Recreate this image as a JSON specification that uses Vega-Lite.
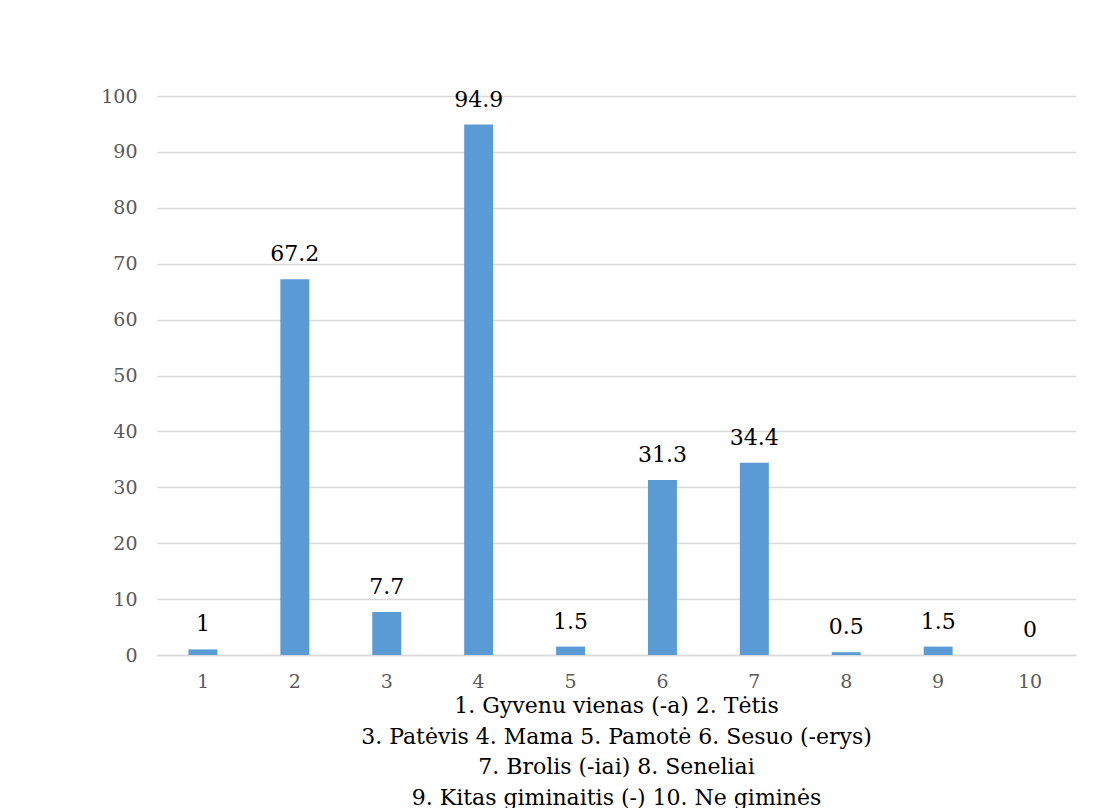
{
  "$schema": "https://vega.github.io/schema/vega-lite/v6.json",
  "width": 919,
  "height": 559,
  "autosize": {"type": "none"},
  "padding": {"left": 157, "top": 96, "right": 21, "bottom": 153},
  "background": "white",
  "title": {
    "text": ["1. Gyvenu vienas (-a)  2. Tėtis", "3. Patėvis  4. Mama  5. Pamotė 6. Sesuo (-erys)", "7. Brolis (-iai) 8. Seneliai", "9. Kitas giminaitis (-)  10. Ne giminės"],
    "orient": "bottom",
    "anchor": "middle",
    "font": "DejaVu Serif",
    "fontSize": 22,
    "fontWeight": "normal",
    "color": "#000000",
    "lineHeight": 30.5,
    "offset": 5
  },
  "data": {
    "values": [
      {"cat": "1", "value": 1},
      {"cat": "2", "value": 67.2},
      {"cat": "3", "value": 7.7},
      {"cat": "4", "value": 94.9},
      {"cat": "5", "value": 1.5},
      {"cat": "6", "value": 31.3},
      {"cat": "7", "value": 34.4},
      {"cat": "8", "value": 0.5},
      {"cat": "9", "value": 1.5},
      {"cat": "10", "value": 0}
    ]
  },
  "encoding": {
    "x": {
      "field": "cat",
      "type": "ordinal",
      "sort": null,
      "scale": {"paddingInner": 0.685, "paddingOuter": 0.3425},
      "axis": {
        "title": null,
        "labelAngle": 0,
        "labelFont": "DejaVu Serif",
        "labelFontSize": 19,
        "labelColor": "#595959",
        "labelPadding": 17,
        "ticks": false,
        "domainColor": "#d9d9d9",
        "domainWidth": 1.5,
        "grid": false
      }
    },
    "y": {
      "field": "value",
      "type": "quantitative",
      "scale": {"domain": [0, 100], "nice": false},
      "axis": {
        "title": null,
        "values": [0, 10, 20, 30, 40, 50, 60, 70, 80, 90, 100],
        "labelFont": "DejaVu Serif",
        "labelFontSize": 19,
        "labelColor": "#595959",
        "labelPadding": 20,
        "ticks": false,
        "domain": false,
        "grid": true,
        "gridColor": "#d9d9d9",
        "gridWidth": 1.5
      }
    }
  },
  "layer": [
    {"mark": {"type": "bar", "color": "#5b9bd5"}},
    {
      "mark": {"type": "text", "baseline": "alphabetic", "dy": -18, "font": "DejaVu Serif", "fontSize": 22, "color": "#000000"},
      "encoding": {"text": {"field": "value", "type": "quantitative"}}
    }
  ],
  "config": {"view": {"stroke": null}}
}
